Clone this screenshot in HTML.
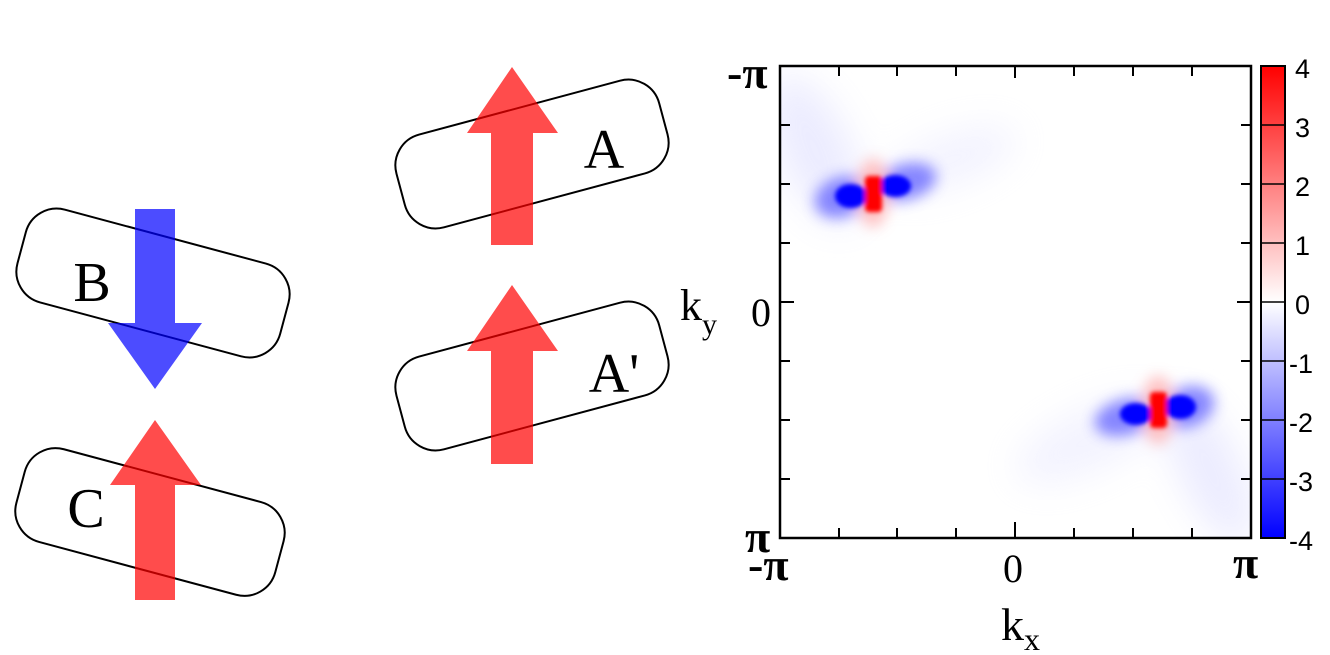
<!DOCTYPE html>
<html><head><meta charset="utf-8"><style>
html,body{margin:0;padding:0;background:#fff;}
svg{display:block;}
text{font-family:"Liberation Serif",serif;fill:#000;}
</style></head><body>
<svg width="1330" height="655" viewBox="0 0 1330 655" xmlns="http://www.w3.org/2000/svg">
<defs>
<filter id="bl" x="-50%" y="-50%" width="200%" height="200%"><feGaussianBlur stdDeviation="7"/></filter>
<filter id="bl2" x="-50%" y="-50%" width="200%" height="200%"><feGaussianBlur stdDeviation="18"/></filter>
<filter id="bl3" x="-50%" y="-50%" width="200%" height="200%"><feGaussianBlur stdDeviation="2"/></filter>
<clipPath id="pc"><rect x="780" y="66" width="471" height="472"/></clipPath>
<linearGradient id="cb" x1="0" y1="0" x2="0" y2="1">
<stop offset="0" stop-color="#ff0000"/><stop offset="0.5" stop-color="#ffffff"/><stop offset="1" stop-color="#0000ff"/>
</linearGradient>
</defs>

<g fill="none" stroke="#000" stroke-width="2">
<rect x="-136" y="-48" width="272" height="96" rx="32" transform="translate(153,283) rotate(15)"/>
<rect x="-134" y="-48" width="268" height="96" rx="32" transform="translate(150,522) rotate(15)"/>
<rect x="-136" y="-48" width="272" height="96" rx="32" transform="translate(532,154) rotate(-15)"/>
<rect x="-136" y="-48" width="272" height="96" rx="32" transform="translate(532,376) rotate(-15)"/>
</g>
<polygon points="135,209 175,209 175,323 202,323 155,389 108,323 135,323" fill="rgba(0,0,255,0.7)"/>
<polygon points="135,600 175,600 175,485 201,485 155,420 110,485 135,485" fill="rgba(255,0,0,0.7)"/>
<polygon points="491,245 533,245 533,133 558,133 512,67 467,133 491,133" fill="rgba(255,0,0,0.7)"/>
<polygon points="491,464 533,464 533,351 558,351 512,285 467,351 491,351" fill="rgba(255,0,0,0.7)"/>
<text x="92" y="301" font-size="56" text-anchor="middle">B</text>
<text x="86" y="527" font-size="56" text-anchor="middle">C</text>
<text x="604" y="168" font-size="56" text-anchor="middle">A</text>
<text x="614" y="392" font-size="56" text-anchor="middle">A'</text>

<g clip-path="url(#pc)">
<rect x="780" y="66" width="471" height="472" fill="#fff"/>
<g filter="url(#bl2)" opacity="0.35">
<ellipse cx="815" cy="150" rx="35" ry="80" fill="#c8c8ff" transform="rotate(-25 815 150)"/>
<ellipse cx="950" cy="160" rx="70" ry="25" fill="#dcdcff" transform="rotate(-20 950 160)"/>
<ellipse cx="1090" cy="440" rx="80" ry="30" fill="#dcdcff" transform="rotate(-25 1090 440)"/>
<ellipse cx="1210" cy="470" rx="30" ry="80" fill="#c8c8ff" transform="rotate(-25 1210 470)"/>
</g>
<g filter="url(#bl)" opacity="0.8">
<ellipse cx="842" cy="197" rx="28" ry="20" fill="#6a6aff" transform="rotate(-20 842 197)"/>
<ellipse cx="905" cy="182" rx="32" ry="18" fill="#6a6aff" transform="rotate(-15 905 182)"/>
<ellipse cx="873" cy="193" rx="16" ry="34" fill="#ffb0b0"/>
<ellipse cx="1126" cy="417" rx="32" ry="18" fill="#6a6aff" transform="rotate(-15 1126 417)"/>
<ellipse cx="1187" cy="407" rx="28" ry="20" fill="#6a6aff" transform="rotate(-20 1187 407)"/>
<ellipse cx="1158" cy="410" rx="16" ry="34" fill="#ffb0b0"/>
</g>
<g filter="url(#bl3)">
<ellipse cx="851" cy="196" rx="16" ry="12" fill="#0000ff"/>
<ellipse cx="895" cy="186" rx="16" ry="11" fill="#0000ff"/>
<rect x="865" y="176" width="17" height="36" rx="4" fill="#ff0000"/>
<ellipse cx="1136" cy="414" rx="16" ry="11" fill="#0000ff"/>
<ellipse cx="1180" cy="407" rx="16" ry="12" fill="#0000ff"/>
<rect x="1150" y="392" width="17" height="36" rx="4" fill="#ff0000"/>
</g>
</g>
<rect x="780" y="66" width="471" height="472" fill="none" stroke="#000" stroke-width="2.5"/>
<g stroke="#000" stroke-width="2">
<path d="M839 66v10M897 66v10M956 66v10M1015 66v12M1074 66v10M1133 66v10M1192 66v10"/>
<path d="M839 538v-10M897 538v-10M956 538v-10M1015 538v-16M1074 538v-10M1133 538v-10M1192 538v-10"/>
<path d="M780 125h10M780 184h10M780 243h10M780 302h14M780 361h10M780 420h10M780 479h10"/>
<path d="M1251 125h-10M1251 184h-10M1251 243h-10M1251 302h-14M1251 361h-10M1251 420h-10M1251 479h-10"/>
</g>
<rect x="1261" y="66" width="24" height="472" fill="url(#cb)" stroke="#000" stroke-width="2"/>
<g stroke="#000" stroke-width="1.5">
<path d="M1261 125h24M1261 184h24M1261 243h24M1261 302h24M1261 361h24M1261 420h24M1261 479h24"/>
</g>
<g font-size="27">
<text x="1295" y="78" style="font-family:'Liberation Sans',sans-serif">4</text>
<text x="1295" y="137" style="font-family:'Liberation Sans',sans-serif">3</text>
<text x="1295" y="196" style="font-family:'Liberation Sans',sans-serif">2</text>
<text x="1295" y="255" style="font-family:'Liberation Sans',sans-serif">1</text>
<text x="1295" y="314" style="font-family:'Liberation Sans',sans-serif">0</text>
<text x="1289" y="373" style="font-family:'Liberation Sans',sans-serif">-1</text>
<text x="1289" y="432" style="font-family:'Liberation Sans',sans-serif">-2</text>
<text x="1289" y="491" style="font-family:'Liberation Sans',sans-serif">-3</text>
<text x="1289" y="550" style="font-family:'Liberation Sans',sans-serif">-4</text>
</g>
<text x="727" y="88" font-size="46" font-weight="bold">-π</text>
<text x="751" y="326" font-size="40">0</text>
<text x="745" y="552" font-size="46" font-weight="bold">π</text>
<text x="680" y="320" font-size="44">k<tspan font-size="30" dy="14">y</tspan></text>
<text x="748" y="580" font-size="46" font-weight="bold">-π</text>
<text x="1003" y="582" font-size="40">0</text>
<text x="1233" y="578" font-size="46" font-weight="bold">π</text>
<text x="1001" y="640" font-size="46">k<tspan font-size="32" dy="10">x</tspan></text>
</svg>
</body></html>
